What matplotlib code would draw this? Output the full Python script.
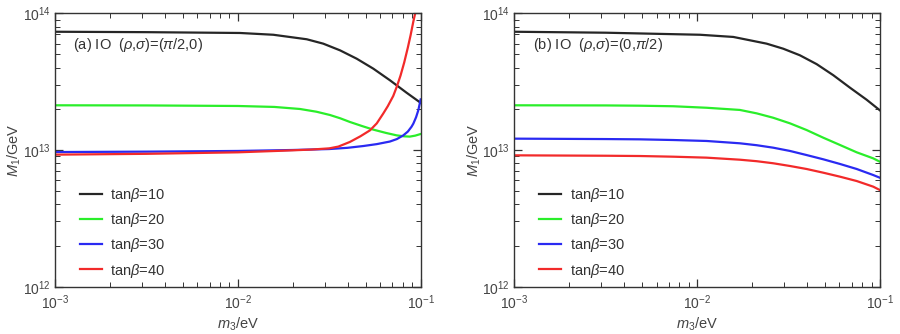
import numpy as np
import matplotlib
matplotlib.use("Agg")
import matplotlib.pyplot as plt
from matplotlib.ticker import LogLocator, NullFormatter

plt.rcParams['font.family'] = ['Liberation Sans', 'DejaVu Sans']
plt.rcParams['mathtext.fontset'] = 'custom'
plt.rcParams['mathtext.rm'] = 'Liberation Sans'
plt.rcParams['mathtext.it'] = 'Liberation Sans:italic'
plt.rcParams['mathtext.bf'] = 'Liberation Sans:bold'

# ---- data: log10(m3 / eV) and log10(M1 / GeV) ----
labels = [r"tan$\beta$=10", r"tan$\beta$=20", r"tan$\beta$=30", r"tan$\beta$=40"]
colors = ["#262626", "#2aee2a", "#2a2af2", "#f22a2a"]

# panel (a): (rho, sigma) = (pi/2, 0)
a_black_lx = [-3, -2.5, -1.988, -1.806, -1.623, -1.533, -1.441, -1.350, -1.259, -1.168, -1.077, -1.0]
a_black_ly = [13.865, 13.862, 13.856, 13.843, 13.810, 13.778, 13.729, 13.668, 13.595, 13.510, 13.419, 13.345]

a_green_lx = [-3, -2.5, -2.0, -1.8, -1.66, -1.57, -1.496, -1.44, -1.387, -1.32, -1.259, -1.19, -1.131, -1.09, -1.059, -1.03, -1.0]
a_green_ly = [13.327, 13.326, 13.322, 13.315, 13.300, 13.280, 13.256, 13.232, 13.205, 13.175, 13.149, 13.125, 13.107, 13.100, 13.098, 13.105, 13.117]

a_blue_lx = [-3, -2.5, -2.0, -1.7, -1.5, -1.4, -1.314, -1.24, -1.168, -1.13, -1.095, -1.07, -1.05, -1.04, -1.025, -1.013, -1.0]
a_blue_ly = [12.985, 12.988, 12.993, 13.000, 13.007, 13.016, 13.029, 13.043, 13.062, 13.080, 13.107, 13.135, 13.170, 13.193, 13.240, 13.290, 13.370]

a_red_lx = [-3, -2.5, -2.0, -1.75, -1.6, -1.5, -1.45, -1.387, -1.33, -1.277, -1.24, -1.205, -1.18, -1.15, -1.13, -1.11, -1.09, -1.07, -1.055, -1.04, -1.03, -1.02]
a_red_ly = [12.966, 12.972, 12.983, 12.995, 13.003, 13.012, 13.025, 13.059, 13.100, 13.144, 13.195, 13.266, 13.320, 13.395, 13.465, 13.545, 13.640, 13.750, 13.840, 13.940, 14.000, 14.070]

# panel (b): (rho, sigma) = (0, pi/2)
b_black_lx = [-3, -2.5, -1.984, -1.802, -1.620, -1.529, -1.438, -1.346, -1.255, -1.164, -1.073, -1.0]
b_black_ly = [13.865, 13.858, 13.843, 13.827, 13.778, 13.741, 13.693, 13.628, 13.547, 13.456, 13.368, 13.290]

b_lx = [-3, -2.5, -2.313, -2.130, -1.948, -1.766, -1.674, -1.584, -1.492, -1.401, -1.310, -1.219, -1.127, -1.037, -1.0]
b_green_ly = [13.327, 13.326, 13.324, 13.320, 13.309, 13.293, 13.268, 13.236, 13.195, 13.146, 13.090, 13.037, 12.983, 12.939, 12.914]
b_blue_ly = [13.083, 13.080, 13.078, 13.073, 13.066, 13.049, 13.035, 13.017, 12.993, 12.963, 12.932, 12.898, 12.861, 12.817, 12.797]
b_red_ly = [12.961, 12.958, 12.956, 12.951, 12.944, 12.929, 12.918, 12.903, 12.883, 12.861, 12.834, 12.805, 12.773, 12.732, 12.707]

panel_a = [(a_black_lx, a_black_ly), (a_green_lx, a_green_ly), (a_blue_lx, a_blue_ly), (a_red_lx, a_red_ly)]
panel_b = [(b_black_lx, b_black_ly), (b_lx, b_green_ly), (b_lx, b_blue_ly), (b_lx, b_red_ly)]
titles = [r"(a) IO  ($\rho$,$\sigma$)=($\pi$/2,0)", r"(b) IO  ($\rho$,$\sigma$)=(0,$\pi$/2)"]

fig = plt.figure(figsize=(9.0, 3.34), dpi=100)
lefts = [0.0611, 0.5714]
for k, (left, panel) in enumerate(zip(lefts, [panel_a, panel_b])):
    ax = fig.add_axes([left, 0.1416, 0.4063, 0.8186])
    for (lx, ly), c, lab in zip(panel, colors, labels):
        ax.plot(np.power(10.0, lx), np.power(10.0, ly), color=c, lw=1.6, label=lab)
    ax.set_xscale('log')
    ax.set_yscale('log')
    ax.set_xlim(1e-3, 1e-1)
    ax.set_ylim(1e12, 1e14)
    for s in ax.spines.values():
        s.set_color('#333333')
        s.set_linewidth(1.0)
    ax.xaxis.set_major_locator(LogLocator(base=10, numticks=10))
    ax.yaxis.set_major_locator(LogLocator(base=10, numticks=10))
    ax.xaxis.set_minor_locator(LogLocator(base=10, subs=np.arange(2, 10), numticks=20))
    ax.yaxis.set_minor_locator(LogLocator(base=10, subs=np.arange(2, 10), numticks=20))
    ax.xaxis.set_minor_formatter(NullFormatter())
    ax.yaxis.set_minor_formatter(NullFormatter())
    ax.tick_params(which='both', direction='in', top=True, right=True, color='#333333',
                   labelsize=10, labelcolor='#444444')
    ax.tick_params(which='major', length=6, width=0.9)
    ax.tick_params(which='minor', length=3.5, width=0.7)
    ax.tick_params(axis='x', which='major', pad=4.5)
    ax.tick_params(axis='y', which='major', pad=3)
    ax.set_xlabel(r"$m_3$/eV", fontsize=10.5, color='#444444', labelpad=3)
    ax.set_ylabel(r"$M_1$/GeV", fontsize=10.5, color='#444444', labelpad=-0.5)
    ax.text(0.05, 0.885, titles[k], transform=ax.transAxes, fontsize=10.5, color='#333333',
            va='center', ha='left')
    leg = ax.legend(loc='lower left', bbox_to_anchor=(0.052, 0.005), frameon=False, fontsize=10.5,
                    handlelength=1.5, handletextpad=0.6, labelspacing=0.5, borderaxespad=0.0)
    for t in leg.get_texts():
        t.set_color('#333333')

fig.savefig("out.png", dpi=100)
